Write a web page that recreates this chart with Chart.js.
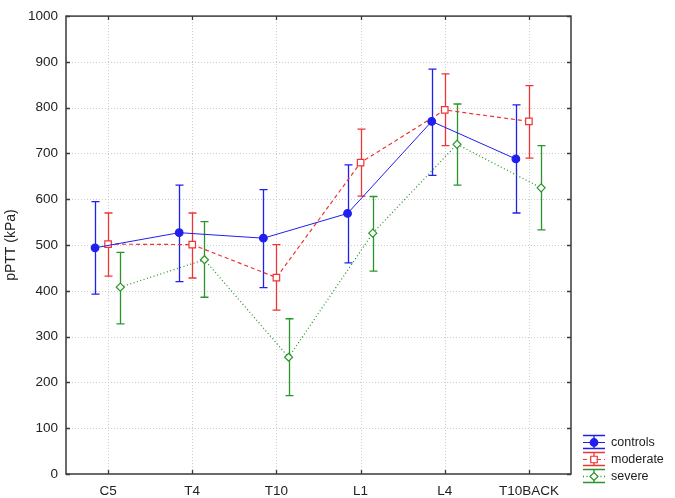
<!DOCTYPE html>
<html><head><meta charset="utf-8">
<script src="https://cdn.jsdelivr.net/npm/chart.js@4/dist/chart.umd.min.js"></script>
<style>html,body{margin:0;padding:0;background:#fff;} #wrap{width:675px;height:498px;}</style>
</head><body><div id="wrap"><canvas id="c" width="675" height="498"></canvas></div>
<script>
const categories = ['C5','T4','T10','L1','L4','T10BACK'];
const yTicks = [0,100,200,300,400,500,600,700,800,900,1000];
const seriesNames = ['controls','moderate','severe'];
const controlsMean = [494,527,515,569,770,688];
const controlsLow  = [393,420,407,461,652,570];
const controlsHigh = [595,631,621,675,884,806];
const moderateMean = [502,501,429,680,795,770];
const moderateLow  = [432,428,358,607,717,690];
const moderateHigh = [570,570,501,753,874,848];
const severeMean = [408,468,255,526,720,625];
const severeLow  = [328,386,171,443,631,533];
const severeHigh = [484,551,339,606,808,717];

const FONT = "'Liberation Sans', Arial, sans-serif";
const BLUE = '#1f1fee', RED = '#ee3535', GREEN = '#2a962a';
const offsets = [-0.155, 0, 0.145];
const styles = [
  {color: BLUE, dash: [], style: 'circle', fill: BLUE, radius: 3.8, width: 1},
  {color: RED, dash: [4,3], style: 'rect', fill: '#fff', radius: 4.6, width: 1.2},
  {color: GREEN, dash: [1,2.5], style: 'rectRot', fill: '#fff', radius: 4, width: 1.3}
];
const means = [controlsMean, moderateMean, severeMean];
const lows = [controlsLow, moderateLow, severeLow];
const highs = [controlsHigh, moderateHigh, severeHigh];

const datasets = seriesNames.map((n, s) => ({
  label: n,
  data: means[s].map((v, i) => ({x: i + offsets[s], y: v})),
  borderColor: styles[s].color,
  borderWidth: styles[s].width,
  borderDash: styles[s].dash,
  pointStyle: styles[s].style,
  pointRadius: styles[s].radius,
  pointBackgroundColor: styles[s].fill,
  pointBorderColor: styles[s].color,
  pointBorderWidth: 1.2,
  tension: 0,
  fill: false
}));

const customPlugin = {
  id: 'custom',
  beforeDatasetsDraw(chart) {
    const {ctx, chartArea: a, scales: {x, y}} = chart;
    ctx.save();
    ctx.strokeStyle = '#cccccc';
    ctx.lineWidth = 1;
    ctx.setLineDash([1, 2]);
    yTicks.forEach(v => {
      if (v === 0 || v === 1000) return;
      const py = Math.round(y.getPixelForValue(v)) + 0.5;
      ctx.beginPath(); ctx.moveTo(a.left, py); ctx.lineTo(a.right, py); ctx.stroke();
    });
    categories.forEach((c, i) => {
      const px = Math.round(x.getPixelForValue(i)) + 0.5;
      ctx.beginPath(); ctx.moveTo(px, a.top); ctx.lineTo(px, a.bottom); ctx.stroke();
    });
    ctx.setLineDash([]);
    for (let s = 0; s < 3; s++) {
      ctx.strokeStyle = styles[s].color;
      ctx.lineWidth = 1.3;
      for (let i = 0; i < categories.length; i++) {
        const px = Math.round(x.getPixelForValue(i + offsets[s])) + 0.5;
        const pl = y.getPixelForValue(lows[s][i]);
        const ph = y.getPixelForValue(highs[s][i]);
        ctx.beginPath();
        ctx.moveTo(px, pl); ctx.lineTo(px, ph);
        ctx.moveTo(px - 4, ph); ctx.lineTo(px + 4, ph);
        ctx.moveTo(px - 4, pl); ctx.lineTo(px + 4, pl);
        ctx.stroke();
      }
    }
    ctx.restore();
  },
  afterDatasetsDraw(chart) {
    const {ctx, chartArea: a, scales: {x, y}} = chart;
    ctx.save();
    ctx.strokeStyle = '#3a3a3a';
    ctx.lineWidth = 1.5;
    ctx.strokeRect(a.left, a.top, a.right - a.left, a.bottom - a.top);
    ctx.lineWidth = 1.3;
    ctx.beginPath();
    yTicks.forEach(v => {
      const py = Math.round(y.getPixelForValue(v)) + 0.5;
      ctx.moveTo(a.left, py); ctx.lineTo(a.left + 4, py);
      ctx.moveTo(a.right, py); ctx.lineTo(a.right - 4, py);
    });
    categories.forEach((c, i) => {
      const px = Math.round(x.getPixelForValue(i)) + 0.5;
      ctx.moveTo(px, a.bottom); ctx.lineTo(px, a.bottom - 4);
      ctx.moveTo(px, a.top); ctx.lineTo(px, a.top + 4);
    });
    ctx.stroke();
    ctx.restore();
  },
  afterDraw(chart) {
    const {ctx, chartArea: a} = chart;
    ctx.save();
    const x0 = a.right + 12, x1 = a.right + 34, xm = (x0 + x1) / 2;
    seriesNames.forEach((n, s) => {
      const cy = 442 + s * 17;
      const st = styles[s];
      ctx.strokeStyle = st.color;
      ctx.lineWidth = 1.3;
      ctx.setLineDash([]);
      ctx.beginPath();
      ctx.moveTo(x0, cy - 6.5); ctx.lineTo(x1, cy - 6.5);
      ctx.moveTo(x0, cy + 6.5); ctx.lineTo(x1, cy + 6.5);
      ctx.moveTo(xm, cy - 6.5); ctx.lineTo(xm, cy + 6.5);
      ctx.stroke();
      ctx.lineWidth = st.width;
      ctx.setLineDash(st.dash);
      ctx.beginPath(); ctx.moveTo(x0, cy + 0.5); ctx.lineTo(x1, cy + 0.5); ctx.stroke();
      ctx.setLineDash([]);
      ctx.fillStyle = st.fill;
      ctx.lineWidth = 1.2;
      Chart.helpers.drawPoint(ctx, {pointStyle: st.style, radius: st.radius, borderWidth: 1.2}, xm, cy + 0.5);
      ctx.fillStyle = '#222';
      ctx.font = '12.5px ' + FONT;
      ctx.textBaseline = 'middle';
      ctx.textAlign = 'left';
      ctx.fillText(n, x1 + 6, cy + 1);
    });
    ctx.restore();
  }
};

new Chart(document.getElementById('c'), {
  type: 'line',
  data: {datasets},
  plugins: [customPlugin],
  options: {
    responsive: false,
    animation: false,
    devicePixelRatio: 1,
    layout: {padding: {top: 8, right: 104, left: 0, bottom: 0}},
    plugins: {legend: {display: false}, tooltip: {enabled: false}},
    scales: {
      x: {
        type: 'linear', min: -0.5, max: 5.5,
        afterBuildTicks: sc => { sc.ticks = categories.map((c, i) => ({value: i})); },
        afterFit: sc => { sc.height = 24; },
        grid: {display: false, drawTicks: false},
        border: {display: false},
        ticks: {
          autoSkip: false, maxRotation: 0, padding: 9,
          color: '#222', font: {family: FONT, size: 13.5},
          callback: v => categories[v]
        }
      },
      y: {
        type: 'linear', min: 0, max: 1000,
        afterBuildTicks: sc => { sc.ticks = yTicks.map(v => ({value: v})); },
        afterFit: sc => { sc.width = 66; },
        grid: {display: false, drawTicks: false},
        border: {display: false},
        ticks: {padding: 8, color: '#222', font: {family: FONT, size: 13.5}, callback: v => String(v)},
        title: {display: true, text: 'pPTT (kPa)', color: '#222', font: {family: FONT, size: 14}, padding: {top: 3, bottom: 0}}
      }
    }
  }
});
</script>
</body></html>
